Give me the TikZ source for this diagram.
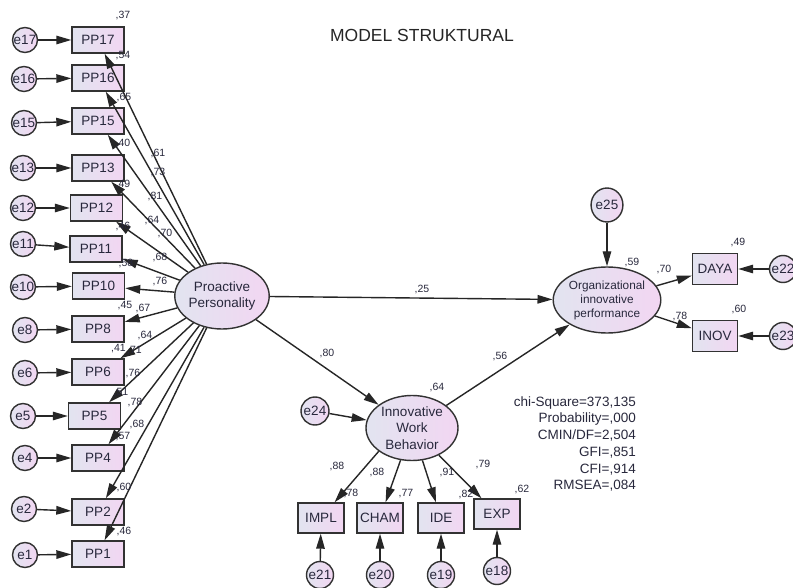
\documentclass[tikz,border=0pt]{standalone}
\usepackage{fontspec}
\setmainfont{Liberation Sans}
\usetikzlibrary{arrows.meta,shapes.geometric}
\definecolor{fillL}{RGB}{226,228,240}
\definecolor{fillR}{RGB}{242,214,242}
\definecolor{txt}{RGB}{40,40,60}
\definecolor{edgec}{RGB}{50,50,50}
\begin{document}
\begin{tikzpicture}[x=1pt,y=-1pt,
 obs/.style={draw=edgec, line width=1.4pt, left color=fillL, right color=fillR, minimum width=52pt, minimum height=26pt, inner sep=0pt, font=\fontsize{13.5}{15}\selectfont, text=txt},
 obss/.style={obs, minimum width=45pt, minimum height=31pt},
 err/.style={circle, draw=edgec, line width=1.4pt, left color=fillL, right color=fillR, minimum size=25pt, inner sep=0pt, font=\fontsize{13.5}{15}\selectfont, text=txt},
 lat/.style={ellipse, draw=edgec, line width=1.4pt, left color=fillL, right color=fillR, minimum width=91pt, minimum height=66pt, inner sep=0pt, align=center, text=txt},
 arr/.style={-{Triangle[length=15pt,width=8.5pt]}, line width=1.4pt, draw=black!85},
 num/.style={font=\fontsize{10.5}{12}\selectfont, text=txt, inner sep=0pt},
]
\useasboundingbox[fill=white] (0,0) rectangle (793,588);

\node[font=\fontsize{17.5}{20}\selectfont, text=black!85] (title) at (422,35) {MODEL STRUKTURAL};

% latent variables
\node[lat, font=\fontsize{13.5}{16.7}\selectfont] (pp) at (222,296) {Proactive\\Personality};
\node[lat, font=\fontsize{11.8}{14}\selectfont] (org) at (607,300) {Organizational\\innovative\\performance};
\node[lat, minimum width=92pt, minimum height=65pt, font=\fontsize{13.5}{16.5}\selectfont] (iwb) at (412,428) {Innovative\\Work\\Behavior};

% PP indicators
\node[obs] (pp17) at (98,40) {PP17};
\node[obs] (pp16) at (98,78) {PP16};
\node[obs] (pp15) at (98,121) {PP15};
\node[obs] (pp13) at (98,168) {PP13};
\node[obs] (pp12) at (96.5,208) {PP12};
\node[obs] (pp11) at (96,249) {PP11};
\node[obs] (pp10) at (98.5,286) {PP10};
\node[obs] (pp8) at (98,329) {PP8};
\node[obs] (pp6) at (98,372) {PP6};
\node[obs] (pp5) at (94.5,416) {PP5};
\node[obs] (pp4) at (98,458) {PP4};
\node[obs] (pp2) at (98,512) {PP2};
\node[obs] (pp1) at (98,554) {PP1};

% error terms for PP
\node[err] (e17) at (25,40) {e17};
\node[err] (e16) at (24,79) {e16};
\node[err] (e15) at (24,123) {e15};
\node[err] (e13) at (23,168) {e13};
\node[err] (e12) at (23,208) {e12};
\node[err] (e11) at (23,244) {e11};
\node[err] (e10) at (23,287) {e10};
\node[err] (e8) at (25,330) {e8};
\node[err] (e6) at (25,373) {e6};
\node[err] (e5) at (23,416) {e5};
\node[err] (e4) at (25,458) {e4};
\node[err] (e2) at (24,509) {e2};
\node[err] (e1) at (25,555) {e1};

\foreach \i in {17,16,15,13,12,11,10,8,6,5,4,2,1}{
  \draw[arr] (e\i) -- (pp\i);
  \draw[arr] (pp) -- (pp\i);
}

% right side
\node[err, minimum width=26pt, minimum height=34pt, ellipse] (e25) at (607,205) {e25};
\node[obss] (daya) at (715,269) {DAYA};
\node[obss] (inov) at (715,336) {INOV};
\node[err, minimum size=27pt] (e22) at (783,269) {e22};
\node[err, minimum size=27pt] (e23) at (783,336) {e23};
\node[err, minimum size=28pt] (e24) at (315,411) {e24};

\node[obss, minimum width=46pt, minimum height=30pt] (impl) at (321,518) {IMPL};
\node[obss, minimum width=46pt, minimum height=30pt] (cham) at (380,518) {CHAM};
\node[obss, minimum width=46pt, minimum height=30pt] (ide) at (441,518) {IDE};
\node[obss, minimum width=46pt, minimum height=30pt] (exp) at (497,514) {EXP};
\node[err, minimum size=27pt] (e21) at (320,575) {e21};
\node[err, minimum size=27pt] (e20) at (380,575) {e20};
\node[err, minimum size=27pt] (e19) at (441,575) {e19};
\node[err, minimum size=27pt] (e18) at (497,571) {e18};

\draw[arr] (pp) -- (org);
\draw[arr] (pp) -- (iwb);
\draw[arr] (iwb) -- (org);
\draw[arr] (e24) -- (iwb);
\draw[arr] (e25) -- (org);
\draw[arr] (org) -- (daya);
\draw[arr] (org) -- (inov);
\draw[arr] (e22) -- (daya);
\draw[arr] (e23) -- (inov);
\draw[arr] (iwb.-145) -- (impl);
\draw[arr] (iwb) -- (cham);
\draw[arr] (iwb) -- (ide);
\draw[arr] (iwb) -- (exp);
\draw[arr] (e21) -- (impl);
\draw[arr] (e20) -- (cham);
\draw[arr] (e19) -- (ide);
\draw[arr] (e18) -- (exp);

% loadings on PP paths
\node[num] at (158,154) {,61};
\node[num] at (158,173) {,73};
\node[num] at (155,197) {,81};
\node[num] at (152,221) {,64};
\node[num] at (165,234) {,70};
\node[num] at (160,258) {,68};
\node[num] at (160,282) {,76};
\node[num] at (143,309) {,67};
\node[num] at (145,336) {,64};
\node[num, anchor=west] at (127,351) {,71};
\node[num] at (133,374) {,76};
\node[num] at (135,403) {,78};
\node[num] at (137,425) {,68};

% R-squared of PP items
\node[num] at (123,16) {,37};
\node[num] at (123,56) {,54};
\node[num] at (124,98) {,65};
\node[num] at (123,144) {,40};
\node[num] at (123,185) {,49};
\node[num] at (123,227) {,46};
\node[num] at (126,264) {,58};
\node[num] at (125,306) {,45};
\node[num, anchor=west] at (111,349) {,41};
\node[num] at (121,393) {,51};
\node[num] at (123,437) {,57};
\node[num] at (124,488) {,60};
\node[num] at (124,532) {,46};

% structural labels
\node[num] at (422,290) {,25};
\node[num] at (327,354) {,80};
\node[num] at (500,357) {,56};
\node[num] at (437,388) {,64};
\node[num] at (632,263) {,59};
\node[num] at (664,270) {,70};
\node[num] at (680,317) {,78};
\node[num] at (738,243) {,49};
\node[num] at (739,310) {,60};
\node[num] at (337,467) {,88};
\node[num] at (377,473) {,88};
\node[num] at (447,473) {,91};
\node[num] at (483,465) {,79};
\node[num] at (351,494) {,78};
\node[num] at (406,494) {,77};
\node[num] at (466,495) {,82};
\node[num] at (522,490) {,62};

% fit statistics
\node[anchor=east, align=right, inner sep=0pt, text=txt, font=\fontsize{13.5}{16.7}\selectfont] (fit) at (636,444)
 {chi-Square=373,135\\Probability=,000\\CMIN/DF=2,504\\GFI=,851\\CFI=,914\\RMSEA=,084};
\end{tikzpicture}
\end{document}
